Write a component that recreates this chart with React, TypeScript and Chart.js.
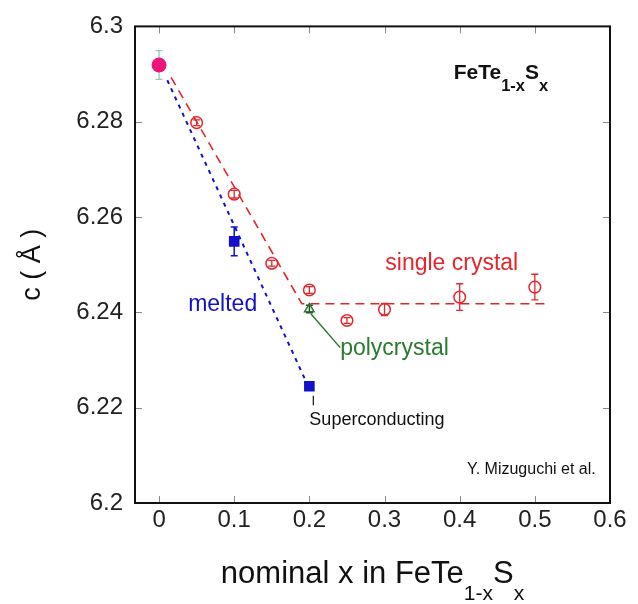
import React, { useEffect, useRef } from "react";
import { Chart, registerables } from "chart.js";

Chart.register(...registerables);

// Axis ticks
const X_TICKS = [0, 0.1, 0.2, 0.3, 0.4, 0.5, 0.6];
const X_TICK_LABELS = ["0", "0.1", "0.2", "0.3", "0.4", "0.5", "0.6"];
const Y_TICKS = [6.2, 6.22, 6.24, 6.26, 6.28, 6.3];
const Y_TICK_LABELS = ["6.2", "6.22", "6.24", "6.26", "6.28", "6.3"];
const X_MIN = -0.032;
const X_MAX = 0.6;
const Y_MIN = 6.2;
const Y_MAX = 6.3;

// FeTe (x = 0)
const X_PARENT = [0];
const C_PARENT = [6.2919];
const ERR_PARENT = [0.003];

// Single crystals
const X_SINGLE = [0.05, 0.1, 0.15, 0.2, 0.25, 0.3, 0.4, 0.5];
const C_SINGLE = [6.2798, 6.2648, 6.2503, 6.2447, 6.2383, 6.2406, 6.2432, 6.2453];
const ERR_SINGLE = [0.0006, 0.0008, 0.0006, 0.0007, 0.0006, 0.0013, 0.0028, 0.0027];

// Melted samples
const X_MELTED = [0.1, 0.2];
const C_MELTED = [6.2549, 6.2245];
const ERR_MELTED = [0.003, 0];

// Polycrystal
const X_POLY = [0.2];
const C_POLY = [6.2407];
const ERR_POLY = [0.0008];

// Guide lines
const SINGLE_GUIDE_X = [0.016, 0.19, 0.52];
const SINGLE_GUIDE_C = [6.2893, 6.2418, 6.2418];
const MELTED_GUIDE_X = [0.011, 0.197];
const MELTED_GUIDE_C = [6.2887, 6.225];

const RED = "#e3262b";
const BLUE = "#1111cc";
const GREEN = "#2b7a2f";
const MAGENTA = "#ee1478";
const FONT = "'Liberation Sans', Arial, Helvetica, sans-serif";

const pts = (xs: number[], ys: number[]) => xs.map((x, i) => ({ x, y: ys[i] }));

type Part = { text: string; size: number; bold?: boolean; dy?: number };

function drawRich(ctx: CanvasRenderingContext2D, parts: Part[], x: number, y: number, align: "left" | "center" | "right" = "left") {
  const widths = parts.map((p) => {
    ctx.font = `${p.bold ? "bold " : ""}${p.size}px ${FONT}`;
    return ctx.measureText(p.text).width;
  });
  const total = widths.reduce((a, b) => a + b, 0);
  let cx = align === "left" ? x : align === "center" ? x - total / 2 : x - total;
  ctx.textAlign = "left";
  ctx.textBaseline = "alphabetic";
  parts.forEach((p, i) => {
    ctx.font = `${p.bold ? "bold " : ""}${p.size}px ${FONT}`;
    ctx.fillText(p.text, cx, y + (p.dy || 0));
    cx += widths[i];
  });
}

const errorBars = {
  id: "errorBars",
  beforeDatasetsDraw(chart: any) {
    const { ctx, scales } = chart;
    const xs = scales.x;
    const ys = scales.y;
    const groups: [number[], number[], number[], string, number][] = [
      [X_PARENT, C_PARENT, ERR_PARENT, "#9cc4bb", 1.3],
      [X_SINGLE, C_SINGLE, ERR_SINGLE, RED, 1.3],
      [X_MELTED, C_MELTED, ERR_MELTED, BLUE, 1.5],
      [X_POLY, C_POLY, ERR_POLY, "#1f4a22", 1.5],
    ];
    ctx.save();
    groups.forEach(([gx, gy, ge, color, lw]) => {
      ctx.strokeStyle = color;
      ctx.lineWidth = lw;
      gx.forEach((xv, i) => {
        const e = ge[i];
        if (!e) return;
        const px = xs.getPixelForValue(xv);
        const top = ys.getPixelForValue(gy[i] + e);
        const bot = ys.getPixelForValue(gy[i] - e);
        ctx.beginPath();
        ctx.moveTo(px, top);
        ctx.lineTo(px, bot);
        ctx.moveTo(px - 3.5, top);
        ctx.lineTo(px + 3.5, top);
        ctx.moveTo(px - 3.5, bot);
        ctx.lineTo(px + 3.5, bot);
        ctx.stroke();
      });
    });
    ctx.restore();
  },
};

const frameAndText = {
  id: "frameAndText",
  afterDraw(chart: any) {
    const { ctx, chartArea: a, scales } = chart;
    const xs = scales.x;
    const ys = scales.y;
    const X = (v: number) => xs.getPixelForValue(v);
    const Y = (v: number) => ys.getPixelForValue(v);
    ctx.save();

    // inward ticks on all four sides
    ctx.strokeStyle = "#8a8a8a";
    ctx.lineWidth = 1;
    ctx.beginPath();
    X_TICKS.forEach((v) => {
      const px = Math.round(X(v)) + 0.5;
      ctx.moveTo(px, a.bottom);
      ctx.lineTo(px, a.bottom - 7);
      ctx.moveTo(px, a.top);
      ctx.lineTo(px, a.top + 7);
    });
    Y_TICKS.forEach((v) => {
      const py = Math.round(Y(v)) + 0.5;
      ctx.moveTo(a.left, py);
      ctx.lineTo(a.left + 7, py);
      ctx.moveTo(a.right, py);
      ctx.lineTo(a.right - 7, py);
    });
    ctx.stroke();

    // frame
    ctx.strokeStyle = "#111";
    ctx.lineWidth = 2;
    ctx.strokeRect(a.left, a.top, a.right - a.left, a.bottom - a.top);

    // leader lines
    ctx.strokeStyle = GREEN;
    ctx.lineWidth = 1.5;
    ctx.beginPath();
    ctx.moveTo(X(0.202), Y(6.2397));
    ctx.lineTo(X(0.241), Y(6.2326));
    ctx.stroke();
    ctx.strokeStyle = "#222";
    ctx.lineWidth = 1.3;
    ctx.beginPath();
    ctx.moveTo(X(0.2053), Y(6.2225));
    ctx.lineTo(X(0.2053), Y(6.2205));
    ctx.stroke();

    // labels
    ctx.fillStyle = RED;
    drawRich(ctx, [{ text: "single crystal", size: 23 }], X(0.301), Y(6.2489));
    ctx.fillStyle = BLUE;
    drawRich(ctx, [{ text: "melted", size: 23 }], X(0.0387), Y(6.2403));
    ctx.fillStyle = GREEN;
    drawRich(ctx, [{ text: "polycrystal", size: 23 }], X(0.241), Y(6.2311));
    ctx.fillStyle = "#111";
    drawRich(ctx, [{ text: "Superconducting", size: 18 }], X(0.2), Y(6.2163));
    drawRich(ctx, [{ text: "Y. Mizuguchi et al.", size: 16 }], X(0.581), Y(6.206), "right");
    drawRich(
      ctx,
      [
        { text: "FeTe", size: 21, bold: true },
        { text: "1-x", size: 16.5, bold: true, dy: 12 },
        { text: "S", size: 21, bold: true },
        { text: "x", size: 16.5, bold: true, dy: 12 },
      ],
      X(0.392),
      Y(6.2889)
    );

    // axis titles
    const cxPlot = (a.left + a.right) / 2;
    drawRich(
      ctx,
      [
        { text: "nominal x in FeTe", size: 31 },
        { text: "1-x", size: 21, dy: 17 },
        { text: "S", size: 31 },
        { text: "x", size: 21, dy: 17 },
      ],
      cxPlot,
      583,
      "center"
    );
    ctx.translate(33, (a.top + a.bottom) / 2);
    ctx.rotate(-Math.PI / 2);
    ctx.font = `27px ${FONT}`;
    ctx.textAlign = "center";
    ctx.textBaseline = "middle";
    ctx.fillText("c ( Å )", 0, 0);
    ctx.restore();
  },
};

export default function App() {
  const ref = useRef<HTMLCanvasElement>(null);

  useEffect(() => {
    if (!ref.current) return;
    const chart = new Chart(ref.current, {
      type: "scatter",
      data: {
        datasets: [
          {
            label: "FeTe",
            data: pts(X_PARENT, C_PARENT),
            pointStyle: "circle",
            pointRadius: 7.5,
            backgroundColor: MAGENTA,
            borderColor: MAGENTA,
            borderWidth: 0,
            order: 0,
          },
          {
            label: "single crystal",
            data: pts(X_SINGLE, C_SINGLE),
            pointStyle: "circle",
            pointRadius: 5.8,
            backgroundColor: "rgba(0,0,0,0)",
            borderColor: RED,
            borderWidth: 1.5,
            order: 1,
          },
          {
            label: "melted",
            data: pts(X_MELTED, C_MELTED),
            pointStyle: "rect",
            pointRadius: 7.5,
            backgroundColor: BLUE,
            borderColor: BLUE,
            borderWidth: 0,
            order: 2,
          },
          {
            label: "polycrystal",
            data: pts(X_POLY, C_POLY),
            pointStyle: "triangle",
            pointRadius: 5.5,
            backgroundColor: "rgba(0,0,0,0)",
            borderColor: GREEN,
            borderWidth: 1.5,
            order: 3,
          },
          {
            label: "single crystal guide",
            data: pts(SINGLE_GUIDE_X, SINGLE_GUIDE_C),
            showLine: true,
            pointRadius: 0,
            borderColor: RED,
            borderWidth: 1.6,
            borderDash: [9, 6],
            order: 10,
          },
          {
            label: "melted guide",
            data: pts(MELTED_GUIDE_X, MELTED_GUIDE_C),
            showLine: true,
            pointRadius: 0,
            borderColor: BLUE,
            borderWidth: 2,
            borderDash: [4, 5],
            order: 11,
          },
        ],
      },
      options: {
        animation: false,
        responsive: false,
        layout: { padding: { top: 24, right: 28, left: 0, bottom: 0 } },
        plugins: { legend: { display: false }, tooltip: { enabled: false } },
        scales: {
          x: {
            type: "linear",
            min: X_MIN,
            max: X_MAX,
            border: { display: false },
            grid: { display: false, drawTicks: false },
            afterBuildTicks: (s: any) => {
              s.ticks = X_TICKS.map((v) => ({ value: v }));
            },
            afterFit: (s: any) => {
              s.height = 101;
            },
            ticks: {
              padding: 3,
              color: "#222",
              font: { family: FONT, size: 24 },
              maxRotation: 0,
              autoSkip: false,
              callback: (v: any) => {
                const i = X_TICKS.findIndex((t) => Math.abs(t - v) < 1e-9);
                return i >= 0 ? X_TICK_LABELS[i] : "";
              },
            },
          },
          y: {
            type: "linear",
            min: Y_MIN,
            max: Y_MAX,
            border: { display: false },
            grid: { display: false, drawTicks: false },
            afterBuildTicks: (s: any) => {
              s.ticks = Y_TICKS.map((v) => ({ value: v }));
            },
            afterFit: (s: any) => {
              s.width = 135;
            },
            ticks: {
              padding: 12,
              color: "#222",
              font: { family: FONT, size: 24 },
              autoSkip: false,
              callback: (v: any) => {
                const i = Y_TICKS.findIndex((t) => Math.abs(t - v) < 1e-9);
                return i >= 0 ? Y_TICK_LABELS[i] : "";
              },
            },
          },
        },
      },
      plugins: [errorBars, frameAndText],
    });
    return () => chart.destroy();
  }, []);

  return (
    <div style={{ position: "absolute", left: 0, top: 0, width: 638, height: 604, background: "#fff" }}>
      <canvas ref={ref} width={638} height={604} style={{ display: "block" }} />
    </div>
  );
}
